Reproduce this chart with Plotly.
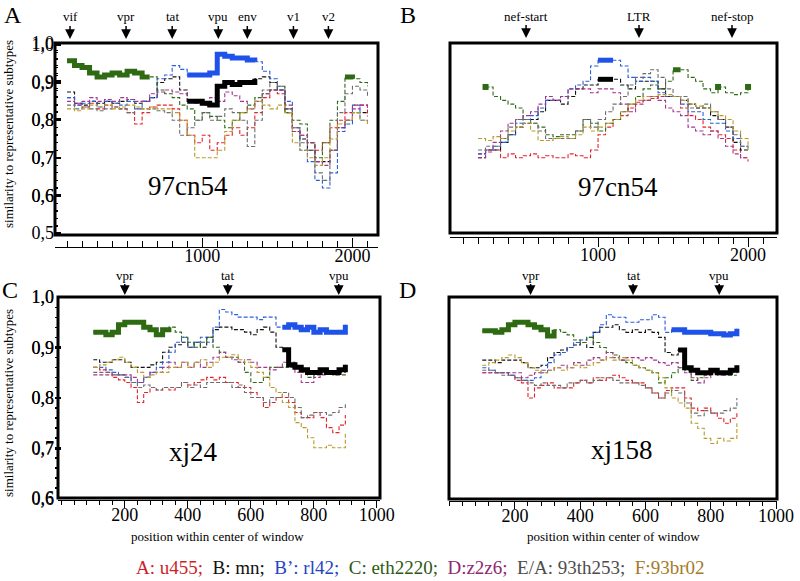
import plotly.graph_objects as go

W, H = 800, 581
FONT = "Liberation Serif"

# ---------------- series meta ----------------
keys = ["A", "B", "B'", "C", "D", "E/A", "F"]
legend_labels = ["A: u455;", "B: mn;", "B’: rl42;", "C: eth2220;", "D:z2z6;", "E/A: 93th253;", "F:93br02"]
line_colors = ["#e3242b", "#111111", "#2b5fd9", "#2f6b1a", "#a3368f", "#6e6e6e", "#b89b2c"]
thick_colors = {"B": "#000000", "B'": "#1f52e8", "C": "#2e6a12"}
legend_colors = ["#cc1f2a", "#111111", "#2444c4", "#2c5a16", "#8c2870", "#4d4d4d", "#a57a2a"]

# ---------------- Panel A (97cn54, left) ----------------
a_x = list(range(100, 2101, 50))
a_red = [.86, .84, .835, .845, .83, .84, .835, .83, .82, .79, .82, .835, .84, .84, .83, .80, .76, .74, .76, .72,
         .74, .76, .78, .76, .78, .82, .86, .88, .87, .82, .78, .76, .74, .72, .74, .78, .80, .82, .84, .84, .81]
a_black = [.875, .845, .84, .85, .845, .85, .845, .85, .855, .845, .85, .86, .90, .91, .915, .88, .85, .85, .845, .84,
           .89, .90, .895, .90, .90, .91, .915, .90, .88, .83, .77, .75, .72, .69, .69, .72, .78, .80, .82, .82, .82]
a_blue = [.86, .84, .845, .85, .835, .85, .845, .84, .85, .83, .85, .86, .91, .92, .945, .935, .92, .92, .92, .925,
          .975, .97, .965, .965, .96, .955, .93, .91, .88, .85, .78, .72, .69, .64, .62, .66, .77, .79, .84, .80, .79]
a_green = [.958, .945, .94, .925, .915, .92, .925, .92, .93, .925, .915, .915, .88, .87, .86, .84, .83, .80, .82, .81,
           .80, .78, .80, .82, .84, .86, .87, .88, .89, .82, .80, .79, .74, .70, .74, .80, .85, .915, .91, .90, .89]
a_purple = [.85, .845, .85, .86, .85, .855, .85, .86, .855, .85, .85, .87, .875, .88, .875, .87, .85, .845, .84, .86,
            .85, .875, .865, .85, .83, .85, .87, .88, .88, .84, .77, .76, .74, .69, .68, .72, .78, .80, .83, .84, .83]
a_grey = [.84, .83, .835, .83, .825, .83, .835, .83, .82, .83, .83, .83, .825, .82, .80, .76, .78, .80, .82, .80,
          .81, .83, .82, .80, .73, .80, .88, .90, .89, .83, .78, .74, .72, .66, .64, .72, .82, .87, .89, .88, .86]
a_gold = [.83, .825, .83, .84, .835, .84, .83, .835, .84, .835, .83, .835, .83, .83, .82, .80, .76, .70, .70, .70,
          .72, .77, .80, .82, .83, .85, .84, .83, .84, .82, .74, .72, .70, .68, .70, .75, .79, .80, .82, .80, .79]
a_thick = {"C": [(100, 650), (1950, 2000)], "B'": [(900, 1350)], "B": [(900, 1350)]}
a_genes = ["vif", "vpr", "tat", "vpu", "env", "v1", "v2"]
a_gene_pos = [120, 493, 800, 1107, 1300, 1607, 1840]

# ---------------- Panel B (97cn54, right) ----------------
b_x = list(range(200, 2001, 50))
b_red = [.71, .715, .72, .70, .71, .70, .705, .71, .70, .705, .70, .70, .71, .705, .70, .72, .76, .78, .80,
         .81, .83, .845, .85, .855, .86, .86, .86, .83, .81, .80, .78, .77, .76, .75, .72, .70, .69]
b_black = [.70, .72, .72, .74, .76, .78, .79, .80, .82, .85, .85, .84, .86, .88, .89, .89, .905, .905, .905,
           .89, .88, .90, .90, .90, .88, .86, .86, .85, .84, .83, .83, .81, .80, .78, .74, .72, .72]
b_blue = [.71, .72, .73, .74, .76, .79, .80, .81, .83, .85, .85, .86, .88, .89, .90, .94, .955, .955, .955,
          .94, .91, .90, .91, .90, .87, .86, .86, .84, .82, .82, .80, .79, .79, .77, .75, .73, .73]
b_green = [None, .885, .86, .85, .84, .83, .80, .79, .78, .76, .755, .76, .76, .77, .80, .79, .77, .79, .80,
           .82, .84, .86, .88, .89, .88, .90, .93, .93, .91, .90, .88, .87, .885, .87, .865, .87, .885]
b_purple = [.70, .72, .74, .77, .79, .80, .81, .82, .84, .86, .85, .86, .88, .88, .88, .87, .88, .88, .87,
            .84, .82, .84, .85, .86, .85, .83, .82, .81, .78, .77, .76, .77, .75, .73, .71, .70, .70]
b_grey = [.72, .73, .73, .75, .78, .80, .80, .79, .77, .75, .75, .75, .75, .77, .80, .78, .80, .82, .84,
          .86, .89, .91, .92, .93, .91, .88, .86, .86, .83, .83, .84, .82, .80, .78, .76, .73, .72]
b_gold = [.75, .745, .755, .75, .77, .78, .79, .77, .745, .745, .75, .755, .75, .76, .78, .77, .78, .79, .80,
          .82, .84, .85, .86, .86, .865, .865, .86, .85, .84, .835, .83, .82, .81, .80, .77, .75, .72]
b_thick = {"C": [(250, 250), (1500, 1550), (1800, 1800), (2000, 2000)], "B'": [(1000, 1100)], "B": [(1000, 1100)]}
b_genes = ["nef-start", "LTR", "nef-stop"]
b_gene_pos = [520, 1273, 1893]

# ---------------- Panel C (xj24) ----------------
c_x = list(range(100, 901, 20))
c_red = [.86, .855, .85, .84, .835, .83, .82, .79, .81, .82, .815, .82, .815, .82, .83, .825, .83, .835, .84, .835,
         .84, .83, .83, .82, .82, .81, .80, .78, .79, .80, .80, .79, .77, .76, .76, .77, .76, .74, .73, .745, .765]
c_black = [.875, .87, .87, .875, .875, .87, .86, .86, .86, .865, .87, .89, .90, .905, .91, .90, .91, .90, .92, .935,
           .94, .94, .935, .935, .93, .925, .935, .94, .93, .90, .895, .865, .86, .855, .85, .85, .855, .85, .85, .855, .865]
c_blue = [.86, .86, .855, .85, .845, .84, .83, .83, .84, .85, .86, .87, .89, .91, .92, .90, .91, .92, .91, .94,
          .975, .97, .965, .96, .96, .96, .955, .96, .96, .94, .94, .945, .94, .935, .94, .93, .935, .93, .93, .93, .945]
c_green = [.93, .93, .925, .93, .945, .95, .95, .95, .94, .935, .925, .935, .94, .93, .92, .91, .90, .91, .92, .90,
           .89, .88, .88, .87, .85, .83, .83, .84, .86, .86, .86, .87, .86, .85, .84, .845, .85, .85, .845, .845, .84]
c_purple = [.845, .845, .845, .845, .845, .845, .84, .83, .84, .85, .85, .86, .87, .86, .87, .86, .87, .86, .87, .88,
            .89, .88, .875, .87, .875, .87, .86, .86, .855, .86, .87, .86, .85, .83, .83, .84, .845, .85, .845, .85, .86]
c_grey = [.85, .85, .85, .845, .845, .84, .83, .82, .825, .82, .815, .82, .82, .82, .83, .82, .825, .82, .83, .83,
          .83, .83, .82, .825, .81, .80, .80, .79, .80, .80, .81, .80, .78, .76, .765, .77, .77, .765, .77, .78, .79]
c_gold = [.86, .865, .87, .875, .88, .87, .86, .85, .84, .845, .85, .85, .86, .86, .87, .86, .87, .875, .86, .87,
          .88, .88, .885, .875, .87, .86, .85, .84, .82, .81, .79, .78, .75, .74, .72, .70, .70, .705, .70, .70, .73]
c_thick = {"C": [(100, 340)], "B'": [(700, 900)], "B": [(700, 900)]}
c_genes = ["vpr", "tat", "vpu"]
c_gene_pos = [200, 527, 879]

# ---------------- Panel D (xj158) ----------------
d_x = list(range(100, 881, 20))
d_red = [.85, .85, .85, .85, .845, .835, .83, .80, .82, .825, .83, .82, .82, .82, .83, .835, .83, .84, .835, .84,
         .845, .84, .835, .83, .83, .82, .81, .80, .815, .82, .82, .80, .78, .775, .78, .77, .76, .75, .76, .77]
d_black = [.875, .875, .87, .875, .875, .875, .87, .86, .86, .865, .88, .89, .895, .90, .905, .91, .90, .93, .94, .94,
           .945, .935, .93, .935, .93, .935, .93, .92, .89, .885, .895, .86, .855, .85, .85, .855, .85, .85, .855, .865]
d_blue = [.86, .855, .85, .85, .845, .84, .835, .835, .84, .85, .87, .885, .89, .90, .91, .915, .92, .93, .945, .965,
          .96, .96, .95, .95, .955, .955, .965, .96, .93, .935, .935, .93, .93, .93, .93, .927, .927, .925, .927, .937]
d_green = [.933, .933, .93, .935, .945, .95, .95, .945, .94, .935, .923, .935, .93, .925, .915, .91, .92, .91, .90, .89,
           .885, .875, .87, .865, .86, .855, .85, .83, .84, .85, .86, .855, .835, .84, .845, .85, .85, .845, .845, .845]
d_purple = [.85, .85, .85, .85, .85, .85, .84, .845, .85, .855, .855, .86, .865, .86, .87, .865, .875, .88, .875, .89,
            .88, .875, .88, .88, .875, .88, .875, .87, .865, .87, .86, .85, .84, .83, .84, .85, .845, .85, .85, .865]
d_grey = [.855, .855, .85, .845, .845, .84, .835, .83, .825, .83, .825, .825, .82, .83, .83, .835, .83, .835, .84, .84,
          .835, .83, .83, .83, .825, .82, .81, .80, .81, .815, .81, .79, .77, .765, .775, .77, .77, .775, .78, .80]
d_gold = [.865, .87, .875, .88, .885, .88, .87, .86, .855, .85, .855, .86, .855, .86, .865, .86, .865, .87, .875, .88,
          .875, .88, .875, .865, .86, .855, .85, .84, .82, .80, .79, .78, .75, .74, .72, .71, .72, .715, .72, .75]
d_thick = {"C": [(100, 320)], "B'": [(680, 880)], "B": [(700, 880)]}
d_genes = ["vpr", "tat", "vpu"]
d_gene_pos = [248, 562, 826]

# ---------------- axis tick labels ----------------
ab_xtickvals = [1000, 2000]
ab_xticktext = ["1000", "2000"]
cd_xtickvals = [200, 400, 600, 800, 1000]
cd_xticktext = ["200", "400", "600", "800", "1000"]
a_ytickvals = [0.5, 0.6, 0.7, 0.8, 0.9, 1.0]
a_yticktext = ["0,5", "0,6", "0,7", "0,8", "0,9", "1,0"]
bcd_ytickvals = [0.6, 0.7, 0.8, 0.9, 1.0]
bcd_yticktext = ["0,6", "0,7", "0,8", "0,9", "1,0"]


def px(x):
    return x / W


def py(y):
    return 1 - y / H


panels = [
    dict(ax="", x=a_x, ys=[a_red, a_black, a_blue, a_green, a_purple, a_grey, a_gold], thick=a_thick,
         genes=a_genes, gpos=a_gene_pos, tip=39, ay=-22, name="97cn54", name_xy=(188, 186),
         letter="A", letter_xy=(13, 15)),
    dict(ax="2", x=b_x, ys=[b_red, b_black, b_blue, b_green, b_purple, b_grey, b_gold], thick=b_thick,
         genes=b_genes, gpos=b_gene_pos, tip=38, ay=-22, name="97cn54", name_xy=(618, 187),
         letter="B", letter_xy=(408, 15)),
    dict(ax="3", x=c_x, ys=[c_red, c_black, c_blue, c_green, c_purple, c_grey, c_gold], thick=c_thick,
         genes=c_genes, gpos=c_gene_pos, tip=295, ay=-20, name="xj24", name_xy=(193, 452),
         letter="C", letter_xy=(10, 290)),
    dict(ax="4", x=d_x, ys=[d_red, d_black, d_blue, d_green, d_purple, d_grey, d_gold], thick=d_thick,
         genes=d_genes, gpos=d_gene_pos, tip=295, ay=-20, name="xj158", name_xy=(622, 450),
         letter="D", letter_xy=(407, 290)),
]

fig = go.Figure()
annotations = []
shapes = []


def paper_text(x, y, text, size, angle=0, color="black"):
    return dict(x=px(x), y=py(y), xref="paper", yref="paper", xanchor="center", yanchor="middle",
                text=text, showarrow=False, textangle=angle,
                font=dict(family=FONT, size=size, color=color))


for p in panels:
    xa, ya = "x" + p["ax"], "y" + p["ax"]
    for k, ys, col in zip(keys, p["ys"], line_colors):
        fig.add_trace(go.Scatter(x=p["x"], y=ys, mode="lines", xaxis=xa, yaxis=ya,
                                 line=dict(color=col, width=1.1, dash="4px,2px", shape="hv"),
                                 showlegend=False, hoverinfo="skip"))
    for k, segs in p["thick"].items():
        idx = keys.index(k)
        ys = p["ys"][idx]
        for (x0, x1) in segs:
            sx = [x for x in p["x"] if x0 <= x <= x1]
            sy = [ys[p["x"].index(x)] for x in sx]
            if len(sx) == 1:
                fig.add_trace(go.Scatter(x=sx, y=sy, mode="markers", xaxis=xa, yaxis=ya,
                                         marker=dict(color=thick_colors[k], size=6, symbol="square"),
                                         showlegend=False, hoverinfo="skip"))
            else:
                fig.add_trace(go.Scatter(x=sx, y=sy, mode="lines", xaxis=xa, yaxis=ya,
                                         line=dict(color=thick_colors[k], width=5, shape="hv"),
                                         showlegend=False, hoverinfo="skip"))
    # frame
    shapes.append(dict(type="rect", xref=xa + " domain", yref=ya + " domain", x0=0, x1=1, y0=0, y1=1,
                       line=dict(color="black", width=3), layer="above"))
    # gene arrows
    for g, gx in zip(p["genes"], p["gpos"]):
        annotations.append(dict(x=gx, xref=xa, y=py(p["tip"]), yref="paper", text=g, showarrow=True,
                                ax=0, ay=p["ay"], arrowhead=2, arrowsize=1.3, arrowwidth=1.5,
                                arrowcolor="black", font=dict(family=FONT, size=13, color="black")))
    annotations.append(paper_text(p["name_xy"][0], p["name_xy"][1], p["name"], 27))
    annotations.append(paper_text(p["letter_xy"][0], p["letter_xy"][1], p["letter"], 24))

# axis titles
for (x, y) in [(8, 134), (8, 403)]:
    annotations.append(paper_text(x, y, "similarity to representative subtypes", 13, angle=-90))
for (x, y) in [(217, 536), (613, 536)]:
    annotations.append(paper_text(x, y, "position within center of window", 13))

# legend line
sep = "&nbsp;&nbsp;"
parts = [f'<span style="color:{c}">{t}</span>' for t, c in zip(legend_labels, legend_colors)]
annotations.append(paper_text(420, 567, sep.join(parts), 19))

tickfont = dict(family=FONT, size=18, color="black")


def xaxis_cfg(dom, rng, pos, vals, text, ticks, minor_dtick, ticklen, standoff):
    return dict(domain=[px(dom[0]), px(dom[1])], range=rng, anchor="free", position=py(pos),
                automargin=False, ticklabelstandoff=standoff,
                showline=True, linecolor="black", linewidth=1.2, ticks=ticks, ticklen=ticklen,
                tickwidth=1.2, tickcolor="black", tickvals=vals, ticktext=text, tickfont=tickfont,
                showgrid=False, zeroline=False,
                minor=dict(ticks=ticks, ticklen=max(ticklen - 3, 4), dtick=minor_dtick, tick0=0,
                           tickcolor="black", tickwidth=1, showgrid=False))


def yaxis_cfg(dom, rng, vals, text):
    return dict(domain=[py(dom[1]), py(dom[0])], range=rng, showline=False, ticks="inside", ticklen=6,
                automargin=False,
                tickwidth=1.5, tickcolor="black", tickvals=vals, ticktext=text, tickfont=tickfont,
                showgrid=False, zeroline=False,
                minor=dict(ticks="inside", ticklen=3, dtick=0.02, tick0=0, tickcolor="black",
                           tickwidth=1, showgrid=False))


fig.update_layout(
    template="none",
    width=W, height=H, margin=dict(l=0, r=0, t=0, b=0, autoexpand=False),
    paper_bgcolor="white", plot_bgcolor="white", showlegend=False,
    xaxis=xaxis_cfg((55, 378), [20, 2170], 247, ab_xtickvals, ab_xticktext, "inside", 100, 9, -8),
    yaxis=yaxis_cfg((43, 235), [0.495, 1.005], a_ytickvals, a_yticktext),
    xaxis2=xaxis_cfg((450, 777), [13, 2193], 237, ab_xtickvals, ab_xticktext, "outside", 100, 9, -8),
    yaxis2=yaxis_cfg((43, 233), [0.503, 1.0], bcd_ytickvals, bcd_yticktext),
    xaxis3=xaxis_cfg((58, 380), [-12, 1010], 500, cd_xtickvals, cd_xticktext, "outside", 40, 7, -9),
    yaxis3=yaxis_cfg((297, 498), [0.6, 1.0], bcd_ytickvals, bcd_yticktext),
    xaxis4=xaxis_cfg((449, 777), [-2, 1003], 501, cd_xtickvals, cd_xticktext, "outside", 40, 7, -9),
    yaxis4=yaxis_cfg((297, 499), [0.6, 1.0], bcd_ytickvals, bcd_yticktext),
    annotations=annotations, shapes=shapes,
)

fig.write_html("out.html", config={"displayModeBar": False},
               post_script="document.body.style.margin='0px';")
